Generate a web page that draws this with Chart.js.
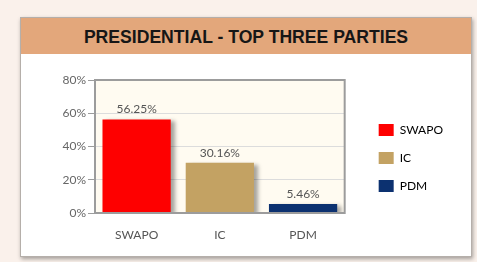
<!DOCTYPE html>
<html>
<head>
<meta charset="utf-8">
<script src="https://cdn.jsdelivr.net/npm/chart.js@4"></script>
<style>
html,body{margin:0;padding:0}
body{width:477px;height:262px;background:#faf1eb;position:relative;overflow:hidden}
#card{position:absolute;left:20px;top:17px;width:450px;height:238px;background:#fff;border:1px solid #b5afaa;box-shadow:1px 2px 4px rgba(0,0,0,0.35)}
#head{height:36px;background:#e3a77b;text-align:center;font:bold 17.6px "Liberation Sans",Arial,sans-serif;line-height:38px;color:#161616}
#chart{position:absolute;left:-178px;top:54px}
</style>
</head>
<body>
<div id="card"><div id="head">PRESIDENTIAL - TOP THREE PARTIES</div></div>
<canvas id="chart" width="648" height="202"></canvas>
<script>
const parties = ["SWAPO","IC","PDM"]
const shares = [56.25,30.16,5.46]
const partyColors = ["#fe0000","#c3a263","#0c3170"]
const yTicks = [0,20,40,60,80]

// canvas sticks out 200px to the left so the legend gets enough room in the layout
const plotBox = {
id:"plotBox",
beforeDraw(chart){
let a = chart.chartArea
let c = chart.ctx
c.save()
c.fillStyle = "#fffbf1"
c.fillRect(a.left,a.top,a.right-a.left,a.bottom-a.top)
c.restore()
},
beforeDatasetsDraw(chart){
let c = chart.ctx
c.save()
c.shadowColor = "rgba(0,0,0,0.35)"
c.shadowOffsetX = 4
c.shadowOffsetY = 2
c.shadowBlur = 4
},
afterDatasetsDraw(chart){
let c = chart.ctx
c.restore()
let a = chart.chartArea
c.save()
c.strokeStyle = "#9c9c9c"
c.lineWidth = 2
c.strokeRect(a.left,a.top,a.right-a.left,a.bottom-a.top)
c.font = "12px Lato"
c.fillStyle = "#555"
c.textAlign = "center"
c.textBaseline = "middle"
chart.getDatasetMeta(0).data.forEach(function(bar,i){
c.fillText(shares[i].toFixed(2)+"%",bar.x,bar.y-10)
})
c.restore()
}
}

new Chart(document.getElementById("chart"),{
type:"bar",
data:{
labels:parties,
datasets:[{
label:"Share",
data:shares,
backgroundColor:partyColors,
borderWidth:0,
categoryPercentage:0.82,
barPercentage:1
}]
},
plugins:[plotBox],
options:{
responsive:false,
animation:false,
devicePixelRatio:1,
layout:{padding:{top:6,left:0,right:17,bottom:0}},
plugins:{
tooltip:{enabled:false},
title:{display:true,text:"",fullSize:false,font:{size:10,lineHeight:1.2},padding:{top:8,bottom:0}},
legend:{
position:"right",
align:"center",
labels:{
boxWidth:15,
boxHeight:12,
padding:16,
color:"#666",
font:{family:"Lato",size:12},
generateLabels(){
return parties.map(function(p,i){
return {text:p,fillStyle:partyColors[i],strokeStyle:partyColors[i],lineWidth:0,hidden:false,index:i}
})
}
}
}
},
scales:{
x:{
grid:{display:false,drawTicks:false},
border:{display:false},
ticks:{color:"#555",font:{family:"Lato",size:12},padding:15},
afterFit(s){s.height = 43}
},
y:{
min:0,
max:80,
afterBuildTicks(s){s.ticks = yTicks.map(v => ({value:v}))},
grid:{color:"#dcdcdc",tickColor:"#9c9c9c",tickLength:7,lineWidth:1},
border:{display:false},
ticks:{color:"#666",font:{family:"Lato",size:12},padding:2,callback:v => v+"%"},
afterFit(s){s.width = 273}
},
gap:{
type:"linear",
position:"right",
grid:{display:false,drawTicks:false},
border:{display:false},
ticks:{display:false},
afterFit(s){s.width = 18}
}
}
}
})
</script>
</body>
</html>
